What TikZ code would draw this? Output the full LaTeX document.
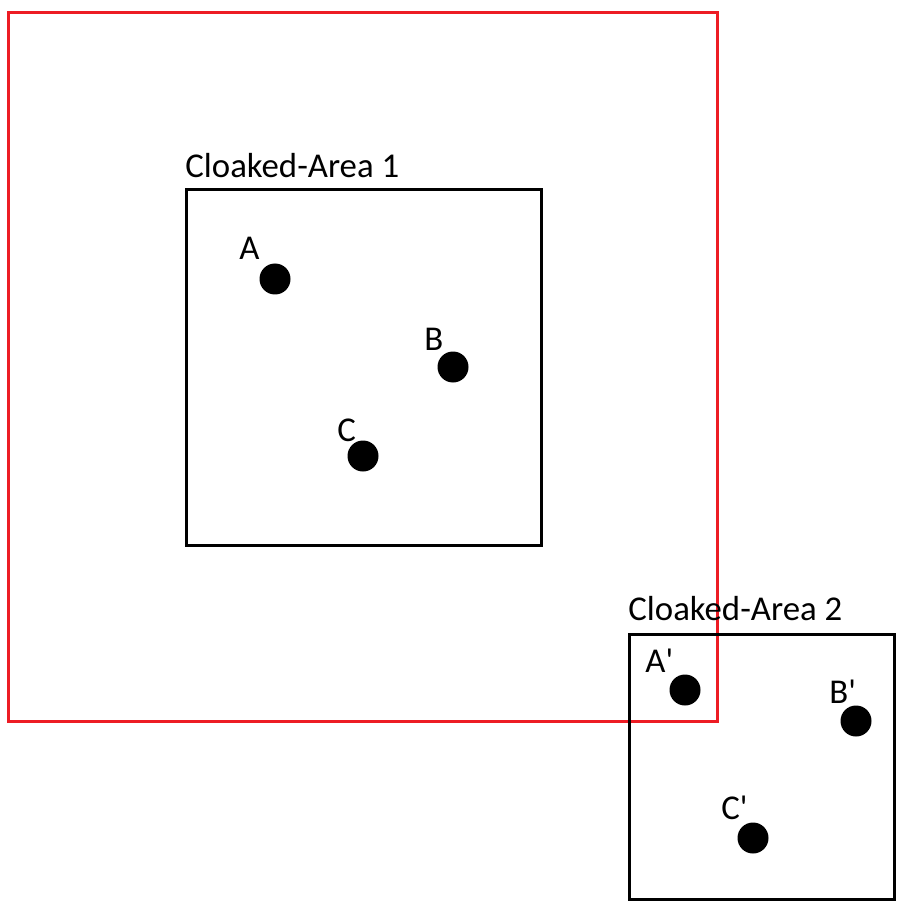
\documentclass[tikz,border=0pt]{standalone}
\usepackage{fontspec}
\setmainfont{Carlito}[Ligatures=TeXOff]
\usepackage{tikz}
\usetikzlibrary{positioning}
\definecolor{mainBlack}{gray}{0}
\definecolor{areaRed}{RGB}{237,28,36}

\begin{document}
\begin{tikzpicture}[x=0.5pt, y=-0.5pt, font=\fontsize{17.4}{20}\selectfont,
    user/.style={circle, fill=mainBlack, minimum size=15.5pt, inner sep=0pt},
    tag/.style={anchor=base west, inner sep=0pt},
    area/.style={line width=1.5pt, mainBlack}]
    \useasboundingbox (0,0) rectangle (902,903);

    % red range
    \draw[line width=1.5pt, areaRed] (8,13) rectangle (717,721);

    % cloaked areas
    \draw[area] (186,190) rectangle (541,545);
    \draw[area] (629,634) rectangle (894,899);
    \node[tag] (area1) at (185,178) {Cloaked-Area 1};
    \node[tag] (area2) at (628,620) {Cloaked-Area 2};

    % users
    \node[user] (A) at (275,279) {};
    \node[user] (B) at (453,367) {};
    \node[user] (C) at (363,456) {};
    \node[user] (A2) at (685,690) {};
    \node[user] (B2) at (856,721) {};
    \node[user] (C2) at (753,838) {};

    \node[tag] (labA) at (239,260) {A};
    \node[tag] (labB) at (424,350) {B};
    \node[tag] (labC) at (337,441) {C};
    \node[tag] (labA2) at (645,672) {A'};
    \node[tag] (labB2) at (829,703) {B'};
    \node[tag] (labC2) at (721,819) {C'};
\end{tikzpicture}
\end{document}
